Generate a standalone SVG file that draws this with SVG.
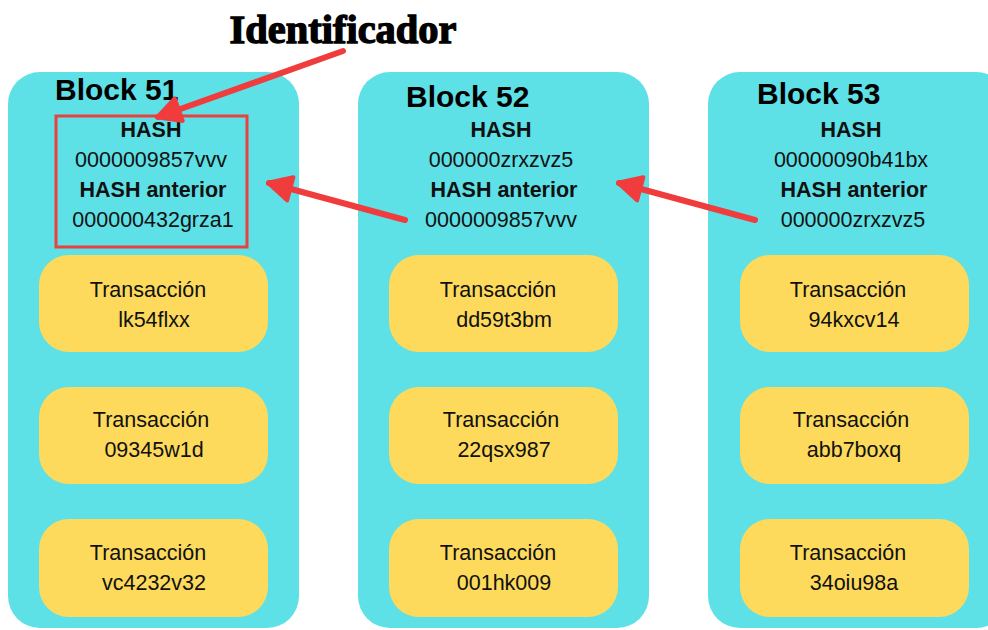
<svg xmlns="http://www.w3.org/2000/svg" width="988" height="630" viewBox="0 0 988 630">
<style>
.blk{fill:#5DE0E6}
.tx{fill:#FDDA5C}
.t{font-family:"Liberation Sans",Arial,sans-serif;fill:#111;text-anchor:middle}
.ttl{font-family:"Liberation Sans",Arial,sans-serif;font-weight:bold;font-size:30px;fill:#000}
.b{font-weight:bold;font-size:21.5px}
.v{font-size:21.5px}
.tr{font-size:21.5px}
.arr{stroke:#F03C3C;stroke-width:6;fill:none;stroke-linecap:round}
</style>
<defs>
<marker id="ah" markerUnits="userSpaceOnUse" markerWidth="30" markerHeight="30" viewBox="0 0 30 30" refX="26" refY="15" orient="auto">
<path d="M4,3 L27,15 L4,27 Z" fill="#F03C3C" stroke="#F03C3C" stroke-width="4" stroke-linejoin="round"/>
</marker>
</defs>
<rect width="988" height="630" fill="#fff"/>
<text x="343" y="43" font-family="'Liberation Serif','Times New Roman',serif" font-weight="900" font-size="39" fill="#000" text-anchor="middle" textLength="227" lengthAdjust="spacingAndGlyphs" stroke="#000" stroke-width="1.3">Identificador</text>

<g id="block51">
<rect class="blk" x="8" y="72" width="291" height="556" rx="32"/>
<text class="ttl" x="55" y="100">Block 51</text>
<rect x="56" y="116" width="191" height="131" fill="none" stroke="#E8413F" stroke-width="3"/>
<text class="t b" x="151" y="137">HASH</text>
<text class="t v" x="151" y="167">0000009857vvv</text>
<text class="t b" x="153" y="197">HASH anterior</text>
<text class="t v" x="153" y="227">000000432grza1</text>
<rect class="tx" x="39" y="255" width="229" height="97" rx="30"/>
<text class="t tr" x="148" y="297">Transacción</text>
<text class="t tr" x="154" y="327">lk54flxx</text>
<rect class="tx" x="39" y="387" width="229" height="97" rx="30"/>
<text class="t tr" x="151" y="427">Transacción</text>
<text class="t tr" x="154" y="457">09345w1d</text>
<rect class="tx" x="39" y="519" width="229" height="98" rx="30"/>
<text class="t tr" x="148" y="560">Transacción</text>
<text class="t tr" x="154" y="590">vc4232v32</text>
</g>

<g id="block52">
<rect class="blk" x="358" y="72" width="291" height="556" rx="32"/>
<text class="ttl" x="406" y="107">Block 52</text>
<text class="t b" x="501" y="137">HASH</text>
<text class="t v" x="501" y="167">000000zrxzvz5</text>
<text class="t b" x="504" y="197">HASH anterior</text>
<text class="t v" x="501" y="227">0000009857vvv</text>
<rect class="tx" x="389" y="255" width="229" height="97" rx="30"/>
<text class="t tr" x="498" y="297">Transacción</text>
<text class="t tr" x="504" y="327">dd59t3bm</text>
<rect class="tx" x="389" y="387" width="229" height="97" rx="30"/>
<text class="t tr" x="501" y="427">Transacción</text>
<text class="t tr" x="504" y="457">22qsx987</text>
<rect class="tx" x="389" y="519" width="229" height="98" rx="30"/>
<text class="t tr" x="498" y="560">Transacción</text>
<text class="t tr" x="504" y="590">001hk009</text>
</g>

<g id="block53">
<rect class="blk" x="708" y="72" width="300" height="556" rx="32"/>
<text class="ttl" x="757" y="104">Block 53</text>
<text class="t b" x="851" y="137">HASH</text>
<text class="t v" x="851" y="167">00000090b41bx</text>
<text class="t b" x="854" y="197">HASH anterior</text>
<text class="t v" x="853" y="227">000000zrxzvz5</text>
<rect class="tx" x="740" y="255" width="229" height="97" rx="30"/>
<text class="t tr" x="848" y="297">Transacción</text>
<text class="t tr" x="854" y="327">94kxcv14</text>
<rect class="tx" x="740" y="387" width="229" height="97" rx="30"/>
<text class="t tr" x="851" y="427">Transacción</text>
<text class="t tr" x="854" y="457">abb7boxq</text>
<rect class="tx" x="740" y="519" width="229" height="98" rx="30"/>
<text class="t tr" x="848" y="560">Transacción</text>
<text class="t tr" x="854" y="590">34oiu98a</text>
</g>

<g id="connectors">
<line class="arr" x1="343" y1="51" x2="158" y2="117" marker-end="url(#ah)"/>
<line class="arr" x1="405" y1="220" x2="269" y2="183" marker-end="url(#ah)"/>
<line class="arr" x1="755" y1="220" x2="619" y2="183" marker-end="url(#ah)"/>
</g>
</svg>
